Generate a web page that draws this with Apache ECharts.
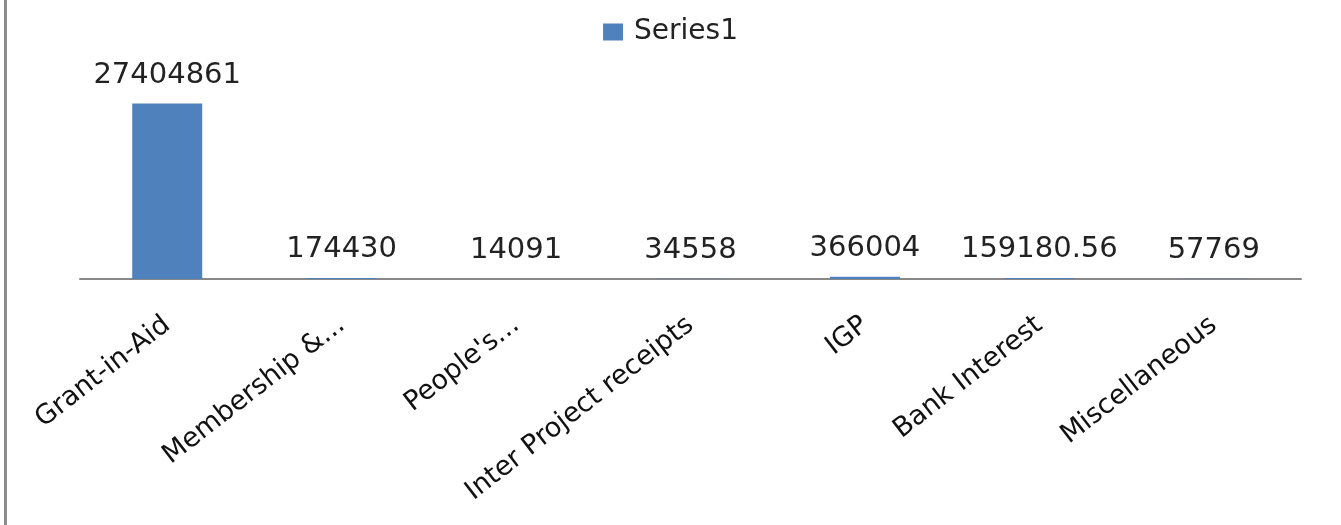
<!DOCTYPE html>
<html>
<head>
<meta charset="utf-8">
<script src="https://cdn.jsdelivr.net/npm/echarts@6/dist/echarts.min.js"></script>
<style>
html,body{margin:0;padding:0;background:#fff;}
#chart{width:1341px;height:525px;}
</style>
</head>
<body>
<div id="chart"></div>
<script>
const categories = ["Grant-in-Aid", "Membership &...", "People's...", "Inter Project receipts", "IGP", "Bank Interest", "Miscellaneous"];
const series1 = [27404861, 174430, 14091, 34558, 366004, 159180.56, 57769];
const seriesName = "Series1";

const chart = echarts.init(document.getElementById('chart'));
chart.setOption({
  animation: false,
  backgroundColor: '#ffffff',
  graphic: [{
    type: 'rect',
    left: 4, top: 0,
    shape: {width: 3, height: 525},
    style: {fill: '#8c8c8c'}
  }],
  legend: {
    data: [seriesName],
    top: 13,
    left: 'center',
    icon: 'rect',
    itemWidth: 20,
    itemHeight: 17,
    itemGap: 10,
    textStyle: {fontFamily: 'DejaVu Sans', fontSize: 28, color: '#222', padding: [0, 0, 0, 6]}
  },
  grid: {left: 80, right: 40, top: 87, bottom: 246},
  xAxis: {
    type: 'category',
    data: categories,
    axisLine: {lineStyle: {color: '#888888', width: 2}},
    axisTick: {show: false},
    axisLabel: {
      interval: 0,
      rotate: 38,
      margin: 43,
      fontFamily: 'DejaVu Sans',
      fontSize: 27,
      color: '#111'
    }
  },
  yAxis: {
    type: 'value',
    min: 0,
    max: 30000000,
    show: false,
    splitLine: {show: false}
  },
  series: [{
    name: seriesName,
    type: 'bar',
    data: series1,
    barWidth: 70,
    itemStyle: {color: '#4f81bd'},
    label: {
      show: true,
      position: 'top',
      distance: 14,
      fontFamily: 'DejaVu Sans',
      fontSize: 29,
      color: '#222'
    }
  }]
});
</script>
</body>
</html>
